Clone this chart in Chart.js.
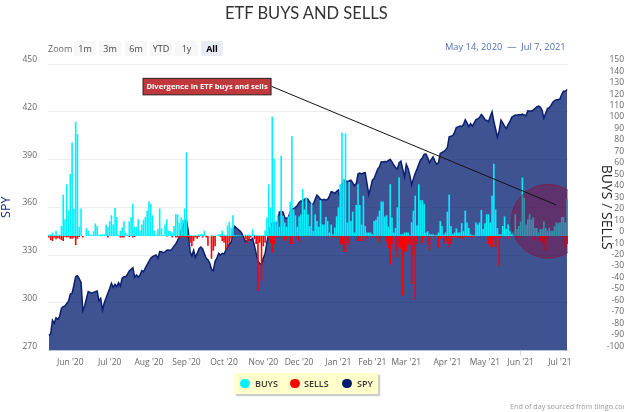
<!DOCTYPE html>
<html>
<head>
<meta charset="utf-8">
<title>ETF Buys and Sells</title>
<script src="https://cdn.jsdelivr.net/npm/chart.js@4"></script>
<style>
  html, body { margin:0; padding:0; background:#fff; }
  #wrap { position:relative; width:624px; height:412px; overflow:hidden; font-family:"Open Sans",sans-serif; }
  #wrap canvas { position:absolute; left:0; top:0; }
  .abs { position:absolute; white-space:nowrap; z-index:2; }
  #title { left:225px; top:3px; font:16.5px Lato,sans-serif; color:#333; }
  #zoomLabel { left:48px; top:42px; font-size:9px; color:#666; }
  .btn { top:41px; height:15px; line-height:15px; text-align:center; font-size:9px; color:#444; background:#f7f7f7; border-radius:2px; }
  .btn.on { background:#e6ebf5; color:#000; font-weight:700; }
  #range { left:445px; top:40px; font-size:9.3px; color:#4d6fb3; }
  #legend { left:234px; top:373px; width:144px; height:21px; background:#ffffcc; box-shadow:2px 2px 1px #ccc; }
  #legend span { position:absolute; top:5px; font-size:9px; font-weight:600; color:#333; line-height:12px; }
  #legend i { position:absolute; top:5.5px; width:9.5px; height:9.5px; border-radius:50%; }
  #credit { left:510px; top:401px; font-size:7.2px; color:#999; }
</style>
</head>
<body>
<div id="wrap">
  <canvas id="etfChart" width="624" height="412"></canvas>
  <div class="abs" id="title">ETF BUYS AND SELLS</div>
  <div class="abs" id="zoomLabel">Zoom</div>
  <div class="abs btn" style="left:74px;width:22px">1m</div>
  <div class="abs btn" style="left:99px;width:22px">3m</div>
  <div class="abs btn" style="left:125px;width:22px">6m</div>
  <div class="abs btn" style="left:150px;width:22px">YTD</div>
  <div class="abs btn" style="left:175px;width:23px">1y</div>
  <div class="abs btn on" style="left:201px;width:22px">All</div>
  <div class="abs" id="range">May 14, 2020 &nbsp;&mdash;&nbsp; Jul 7, 2021</div>
  <div class="abs" id="legend">
    <i style="left:6px;background:#00f0ff"></i><span style="left:21px">BUYS</span>
    <i style="left:56px;background:#ff0000"></i><span style="left:70px">SELLS</span>
    <i style="left:108px;background:#001a70"></i><span style="left:123px">SPY</span>
  </div>
  <div class="abs" id="credit">End of day sourced from tiingo.com</div>
</div>
<script>
// one value per trading day, May 14 2020 to Jul 7 2021
const spy = [
  279.5,280.4,289,287,290.5,289.6,291.5,296.5,297.5,298,
  299.5,301,305.5,306,311,316.5,317,315,312.8,295,
  298,302.5,307,306.5,306,306.5,307,307.4,301.3,302.8,
  295.4,300,303,306,309,312.2,309.7,311.6,310.1,312.6,
  310.5,315.5,316.4,316.4,318,320,321,322,316,317.5,
  316,317.4,320.2,319.5,322,324,326,328,329,329.5,
  330,327.9,332.1,332,331.5,332,333,333.1,332.7,334,
  335.6,337,339,341.5,345,348,351,352,345,332,
  329.5,333,328.5,331,334,335,334,331,328,327,
  325,321,320,326,328,331,330,331,330.6,333,
  335,337,338,345,348,347,346,345,343.6,341,
  338.4,339,340,339.4,340.4,336,331,326,324.7,324,
  328,331,338,343.6,348,350,350,349.5,351,357,
  357.5,357,353.5,353,353.6,357,359,359,360,361,
  363,364,364,365,365.6,365,363,362,362,365,
  367.7,366.5,365,364.5,365,364.5,365,367,369.8,369.5,
  368.7,370,370.8,365.6,374,377,376.5,376,376.5,377,
  375.5,373.5,375,381,381.5,381,381.5,381.7,375,368,
  372,377,378,381,384,385.5,388.6,388.5,388.8,388.6,
  389.5,390,388.5,386.5,385,384,388,389,384,379,
  387,384.4,380,374,378,381.3,384,387,389.7,391,
  393.4,393.5,391,388,390,391.7,389,387,388,393.8,
  394.5,395,396,397.5,404.3,404.7,405,407,410,410.5,
  411,410.8,412,415,413,410.6,412.5,411,413,415,
  415.5,416.4,418.3,417,415,414.5,413.7,417,420,414,
  409,404,408,414.8,413,411,409.5,412,413.7,416.5,
  417.3,417.9,417.8,418.2,418,418.5,418,417.5,420.6,420.5,
  420.4,421,422,423,423.6,423,421,416,419,422,
  422.5,424,426,427,427.5,427.7,428,431,433,432.8,434
];
const buys = [
  1,1.5,3,0.5,4.5,0.5,1.2,8.7,36,14.5,
  45,22.4,54,81.5,24,99.5,89,8,24,0,
  0,7,4.4,1.2,0.8,4,10.8,8.7,1,1.2,
  1.5,1.5,10,8,12.8,18,10,24.4,16.6,1,
  4.4,7.3,12.8,3,1,12.8,16,28,8,8,
  14.5,4.7,10,14,16.6,22,30,28,18,4.7,
  1,5.8,24,6.7,0.5,10,14.5,4.7,4,3,
  8.7,19,19,11.6,16,14,24,73,0.6,0.6,
  0.6,0.3,0.6,0.3,1.5,1.5,1.5,4.4,0.6,0,
  0,0.6,0.3,0,0.6,1.5,1.5,4.4,1.5,0.6,
  9.3,12.2,7.3,18,0.6,0.5,0.5,0.3,0.3,0.3,
  1.2,1,1.2,0.5,5.8,1.2,0.6,0.5,0.3,0.3,
  0.5,5,16,45,25,104,67.5,13,18,8,
  70,17.5,11.6,8,17,30,87,23,18,8,
  17,19,41,23,33,19,8.7,29,4.4,19,
  13,8,31,10,10,16.6,13,3,10,1.5,
  7.3,17,25,45,90,49,89.6,11.6,47,13,
  21,3,27,45,27,10,35,8.7,3,3,
  3,1.5,13,14,17,22,30,30,17,18,
  8,45,16,3,7,25,51,1.5,1.5,3,
  3,3,0.6,12,22,35,9,45,31,31,
  28,3,4,1.5,1.5,1.5,0.6,1,3,13,
  8.7,1.5,3,21,35.8,8.7,1.5,3,6.7,3,
  3,11,4,22,11.6,7,1.5,0.6,0.6,11.6,
  10,11.6,22.7,6,11,19,19,11.6,35,63,
  23,7,1.5,1.5,8.7,17,6,10,4,1.5,
  3,19,6,8.7,12.5,51,33,10,14.5,19,
  14,16,7,7,3,6,6,12.5,7,4.5,
  7,4.5,4.5,8.7,11.6,11,12,16.6,16.6,11.6,32
];
const sells = [
  -1.5,-3.5,-4.4,-1.5,-3,-1.8,-2.5,-3.5,-4.4,-1,
  -1.5,-1.2,-2.5,-2.5,-1.5,-8,-2.5,-1,0,-1.5,
  0,0,0,0,0,0,0,0,0,0,
  0,0,0,-1.5,0,0,0,0,0,0,
  -1.5,-1.5,-1.5,0,0,-1,0,-1.5,-1,0,
  0,0,0,0,0,0,0,0,0,0,
  0,0,0,0,0,0,-0.6,0,0,-1.5,
  0,-1.5,-1.5,-2.5,-1.5,-1,-1,-2,-1,-6,
  -9,-4.4,-1.5,-2.5,-1,0,-1.5,0,-1.5,-8.7,
  0,-20,-13,-9,0,0,-1,-4.4,-6,-12,
  -10,-6,-3,-1,0,0,0,0,0,0,
  -3,-7,-4.4,-1.5,0,-3,-7,-48,-6,-39,
  -9,-6,0,-1.5,-6,-14.5,-7,-1.5,0,-1.5,
  0,0,-4.4,-2.5,0,-7,-7,0,0,-3,
  -5,0,0,0,-1,0,0,0,0,0,
  0,0,0,0,0,0,-1.5,0,0,-1.5,
  0,-1.5,0,-7,-8,-14,-14,-6,-8,0,
  0,0,0,-4.4,-4.4,0,-4.4,0,-2.4,0,
  0,-1.5,0,-2.4,0,-6,-1.5,0,0,-5,
  -11,-25,-7,0,-13,-19,-10,-11,-52,-14,
  -13,-7,-8,-42,-17,-56,-7,0,0,-6,
  -1.5,0,-8,-13,0,0,-1.5,0,-10,-2.4,
  -1,-7,-4,-6,-10,-7,-1.5,-1,-1.5,-1,
  -2,-2.4,-1,-1.5,-1,-0.5,-1,-1.5,-0.5,0,
  0,0,0,0,0,0,-7,-9,-10,-2,
  -10,-2,-27,-2,0,0,0,-2.4,0,0,
  0,0,-1.5,0,-1.5,0,0,0,0,0,
  0,0,-4,0,0,-4,-5.5,-8,-13,-2.4,
  0,0,0,0,0,0,0,0,-1,-10,-7
];

// first trading day of each month -> axis label
const monthIdx = [12,34,56,77,98,120,140,162,181,200,223,244,264,286];
const monthLabels = ["Jun '20","Jul '20","Aug '20","Sep '20","Oct '20","Nov '20","Dec '20","Jan '21","Feb '21","Mar '21","Apr '21","May '21","Jun '21","Jul '21"];

const days = spy.map((_, i) => i);
const tickFont = { family:"'Open Sans',sans-serif", size:8.5 };

// ── Callout: label, arrow line and the red circle ──
const calloutPlugin = {
  id: "callout",
  afterDatasetsDraw(chart) {
    const { ctx, chartArea, scales } = chart;
    const x = scales.x, y = scales.y1;

    ctx.save();
    ctx.beginPath();
    ctx.rect(chartArea.left, chartArea.top, chartArea.width, chartArea.height);
    ctx.clip();
    ctx.beginPath();
    ctx.arc(x.getPixelForValue(279.4), y.getPixelForValue(12.7), 37, 0, Math.PI * 2);
    ctx.fillStyle = "rgba(139,0,50,0.4)";
    ctx.fill();
    ctx.strokeStyle = "rgba(140,20,50,0.6)";
    ctx.lineWidth = 1;
    ctx.stroke();
    ctx.restore();

    const x1 = x.getPixelForValue(124.6), y1 = y.getPixelForValue(130.5);
    ctx.beginPath();
    ctx.moveTo(x1, y1);
    ctx.lineTo(x.getPixelForValue(283.9), y.getPixelForValue(27));
    ctx.strokeStyle = "#111";
    ctx.lineWidth = 1;
    ctx.stroke();

    ctx.fillStyle = "#bf393c";
    ctx.strokeStyle = "#222";
    ctx.fillRect(x1 - 128.5, y1 - 8, 128, 16.5);
    ctx.strokeRect(x1 - 128.5, y1 - 8, 128, 16.5);
    ctx.fillStyle = "#fff";
    ctx.font = "700 7.6px 'Open Sans',sans-serif";
    ctx.textAlign = "center";
    ctx.textBaseline = "middle";
    ctx.fillText("Divergence in ETF buys and sells", x1 - 64.5, y1 + 0.5);
  }
};

new Chart(document.getElementById("etfChart"), {
  type: "bar",
  data: {
    labels: days,
    datasets: [
      { label:"SPY", type:"line", data:spy, yAxisID:"y", order:3,
        borderColor:"#0a1f70", borderWidth:1.5, pointRadius:0, tension:0,
        fill:"start", backgroundColor:"rgba(15,40,120,0.8)" },
      { label:"BUYS", data:buys, yAxisID:"y1", order:2, grouped:false,
        backgroundColor:"#00f0ff", barPercentage:0.9, categoryPercentage:1 },
      { label:"SELLS", data:sells, yAxisID:"y1", order:1, grouped:false,
        backgroundColor:"#ff0000", barPercentage:0.9, categoryPercentage:1 },
    ],
  },
  options: {
    responsive: false,
    animation: false,
    devicePixelRatio: 1,
    layout: { padding: { top:64 } },
    plugins: { legend:{ display:false }, title:{ display:false }, tooltip:{ enabled:false } },
    scales: {
      x: {
        afterFit(s) { s.height = 61.5; },
        border: { color:"#ccd6eb" },
        grid: {
          offset: false,
          drawOnChartArea: false,
          tickLength: 5,
          tickColor: c => monthIdx.includes(c.index) ? "#ccd6eb" : "transparent",
        },
        ticks: {
          autoSkip: false, maxRotation: 0, font: tickFont, color: "#666", padding: 2,
          callback(v, i) {
            const k = monthIdx.indexOf(i);
            return k >= 0 ? monthLabels[k] : null;
          },
        },
      },
      y: {
        position: "left", min: 270, max: 450,
        afterFit(s) { s.width = 48; },
        border: { display:false },
        grid: { color:"#ececec", drawTicks:false },
        ticks: { stepSize:30, align:"end", padding:11, font:tickFont, color:"#666" },
        title: { display:true, text:"SPY", color:"#14286e", padding:0,
                 font:{ family:"'Open Sans',sans-serif", size:12.5, lineHeight:1 } },
      },
      y1: {
        position: "right", min: -100, max: 150,
        afterFit(s) { s.width = 56; },
        border: { display:false },
        grid: { display:false },
        ticks: { stepSize:10, autoSkip:false, align:"end", crossAlign:"far", padding:2, font:tickFont, color:"#666" },
        title: { display:true, text:"BUYS / SELLS", color:"#222", padding:{ top:11, bottom:0 },
                 font:{ family:"'Open Sans',sans-serif", size:14, lineHeight:1 } },
      },
    },
  },
  plugins: [calloutPlugin],
});
</script>
</body>
</html>
